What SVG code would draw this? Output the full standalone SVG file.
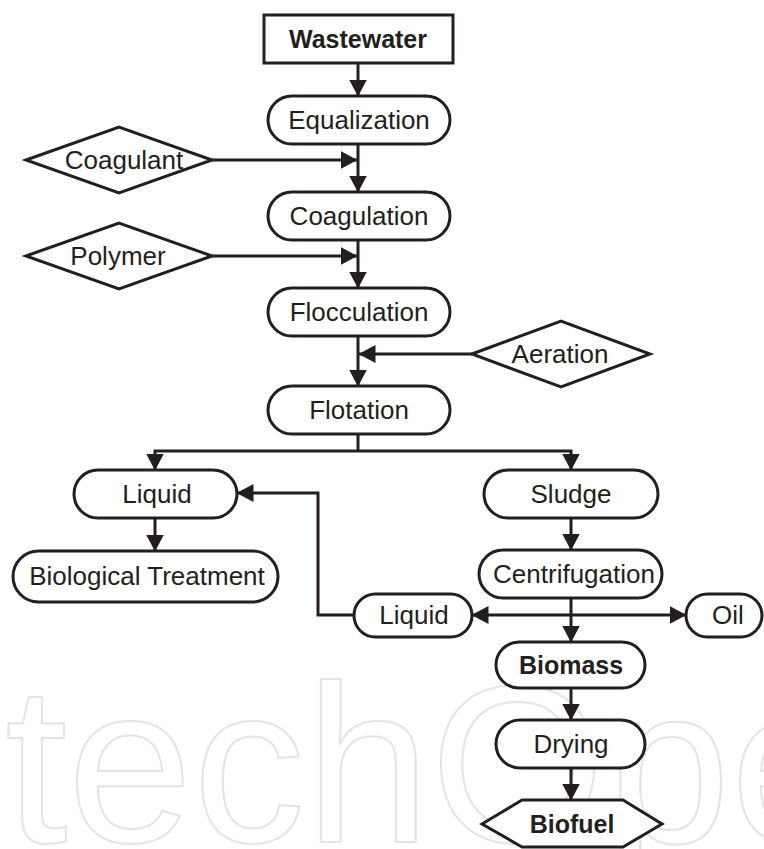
<svg xmlns="http://www.w3.org/2000/svg" width="764" height="849" viewBox="0 0 764 849">
<defs>
<style>
.n{fill:#fff;stroke:#231f20;stroke-width:3}
.t{font-family:"Liberation Sans",Arial,sans-serif;font-size:26px;fill:#231f20;text-anchor:middle}
.b{font-family:"Liberation Sans",Arial,sans-serif;font-size:25px;font-weight:bold;fill:#231f20;text-anchor:middle}
.c{fill:none;stroke:#231f20;stroke-width:3}
.a{marker-end:url(#ah)}
.wm{font-family:"Liberation Sans",Arial,sans-serif;font-size:225px;fill:none;stroke:#e4e4e4;stroke-width:2}
</style>
<marker id="ah" markerUnits="userSpaceOnUse" markerWidth="18" markerHeight="18" refX="16.5" refY="9" orient="auto-start-reverse" viewBox="0 0 18 18">
<path d="M0,0 L17,9 L0,18 z" fill="#231f20"/>
</marker>
</defs>
<rect width="764" height="849" fill="#fff"/>
<text class="wm" x="5" y="842">techOpe</text>

<g id="connectors">
<line class="c a" x1="358" y1="63" x2="358" y2="96"/>
<line class="c a" x1="358" y1="144" x2="358" y2="192"/>
<line class="c a" x1="212" y1="160" x2="357" y2="160"/>
<line class="c a" x1="358" y1="240" x2="358" y2="288"/>
<line class="c a" x1="212" y1="256" x2="357" y2="256"/>
<line class="c a" x1="358" y1="336" x2="358" y2="386"/>
<line class="c a" x1="472" y1="354" x2="359" y2="354"/>
<polyline class="c" points="358,434 358,451"/>
<polyline class="c a" points="358,451 155,451 155,470"/>
<polyline class="c a" points="358,451 571,451 571,470"/>
<line class="c a" x1="155" y1="518" x2="155" y2="551"/>
<polyline class="c a" points="354,615 318,615 318,493 237,493"/>
<line class="c a" x1="571" y1="518" x2="571" y2="550"/>
<line class="c a" x1="571" y1="598" x2="571" y2="642"/>
<line class="c" x1="472" y1="615" x2="686" y2="615" marker-start="url(#ah)" marker-end="url(#ah)"/>
<line class="c a" x1="571" y1="688" x2="571" y2="720"/>
<line class="c a" x1="571" y1="768" x2="571" y2="800"/>
</g>

<g id="wastewater"><rect class="n" x="264" y="15" width="189" height="48"/><text class="b" x="358" y="48">Wastewater</text></g>
<g id="equalization"><rect class="n" x="268" y="96" width="182" height="48" rx="24"/><text class="t" x="359" y="129">Equalization</text></g>
<g id="coagulant"><polygon class="n" points="26,160 119,127 212,160 119,193"/><text class="t" x="124" y="169">Coagulant</text></g>
<g id="coagulation"><rect class="n" x="268" y="192" width="182" height="48" rx="24"/><text class="t" x="359" y="225">Coagulation</text></g>
<g id="polymer"><polygon class="n" points="26,256 119,223 212,256 119,289"/><text class="t" x="118" y="265">Polymer</text></g>
<g id="flocculation"><rect class="n" x="268" y="288" width="182" height="48" rx="24"/><text class="t" x="359" y="321">Flocculation</text></g>
<g id="aeration"><polygon class="n" points="472,354 561,321 650,354 561,387"/><text class="t" x="560" y="363">Aeration</text></g>
<g id="flotation"><rect class="n" x="268" y="386" width="182" height="48" rx="24"/><text class="t" x="359" y="419">Flotation</text></g>
<g id="liquid1"><rect class="n" x="74" y="470" width="163" height="48" rx="24"/><text class="t" x="157" y="503">Liquid</text></g>
<g id="sludge"><rect class="n" x="484" y="470" width="174" height="48" rx="24"/><text class="t" x="571" y="503">Sludge</text></g>
<g id="biological"><rect class="n" x="13" y="551" width="265" height="51" rx="25.5"/><text class="t" x="147" y="585">Biological Treatment</text></g>
<g id="centrifugation"><rect class="n" x="479" y="550" width="183" height="48" rx="24"/><text class="t" x="574" y="583">Centrifugation</text></g>
<g id="liquid2"><rect class="n" x="354" y="594" width="118" height="43" rx="21.5"/><text class="t" x="414" y="624">Liquid</text></g>
<g id="oil"><rect class="n" x="686" y="594" width="76" height="43" rx="21.5"/><text class="t" x="728" y="624">Oil</text></g>
<g id="biomass"><rect class="n" x="496" y="642" width="149" height="46" rx="23"/><text class="b" x="571" y="674">Biomass</text></g>
<g id="drying"><rect class="n" x="496" y="720" width="149" height="48" rx="24"/><text class="t" x="571" y="753">Drying</text></g>
<g id="biofuel"><polygon class="n" points="482,824 522,800 623,800 662,824 623,847 522,847"/><text class="b" x="572" y="833">Biofuel</text></g>
</svg>
